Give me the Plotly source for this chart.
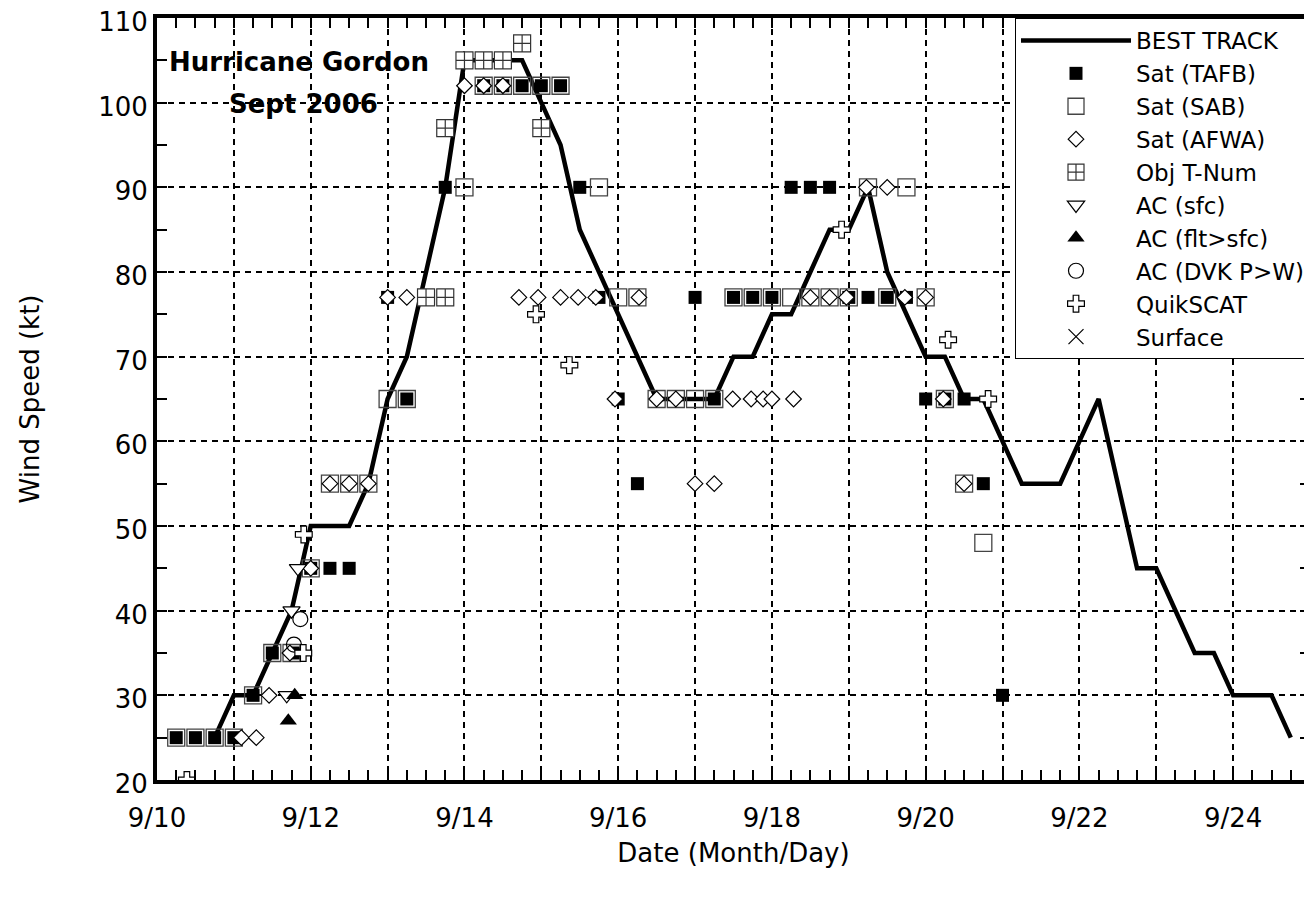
import plotly.graph_objects as go
from datetime import datetime, timedelta

# ---------------- data (times are UTC, Sept 2006) ----------------
bt_time = ["09-10 18:00", "09-11 00:00", "09-11 06:00", "09-11 12:00", "09-11 18:00",
           "09-12 00:00", "09-12 06:00", "09-12 12:00", "09-12 18:00", "09-13 00:00",
           "09-13 06:00", "09-13 12:00", "09-13 18:00", "09-14 00:00", "09-14 06:00",
           "09-14 12:00", "09-14 18:00", "09-15 00:00", "09-15 06:00", "09-15 12:00",
           "09-15 18:00", "09-16 00:00", "09-16 06:00", "09-16 12:00", "09-16 18:00",
           "09-17 00:00", "09-17 06:00", "09-17 12:00", "09-17 18:00", "09-18 00:00",
           "09-18 06:00", "09-18 12:00", "09-18 18:00", "09-19 00:00", "09-19 06:00",
           "09-19 12:00", "09-19 18:00", "09-20 00:00", "09-20 06:00", "09-20 12:00",
           "09-20 18:00", "09-21 00:00", "09-21 06:00", "09-21 12:00", "09-21 18:00",
           "09-22 00:00", "09-22 06:00", "09-22 12:00", "09-22 18:00", "09-23 00:00",
           "09-23 06:00", "09-23 12:00", "09-23 18:00", "09-24 00:00", "09-24 06:00",
           "09-24 12:00", "09-24 18:00"]
bt_wind = [25, 30, 30, 35, 40, 50, 50, 50, 55, 65, 70, 80, 90, 105, 105, 105, 105, 100, 95, 85,
           80, 75, 70, 65, 65, 65, 65, 70, 70, 75, 75, 80, 85, 85, 90, 80, 75, 70, 70, 65,
           65, 60, 55, 55, 55, 60, 65, 55, 45, 45, 40, 35, 35, 30, 30, 30, 25]

tafb_time = ["09-10 06:00", "09-10 12:00", "09-10 18:00", "09-11 00:00", "09-11 06:00",
             "09-11 12:00", "09-11 19:00", "09-12 00:00", "09-12 06:00", "09-12 12:00",
             "09-13 00:00", "09-13 06:00", "09-13 18:00", "09-14 06:00", "09-14 12:00",
             "09-14 18:00", "09-15 00:00", "09-15 06:00", "09-15 12:00", "09-15 18:00",
             "09-16 00:00", "09-16 06:00", "09-17 00:00", "09-17 06:00", "09-17 12:00",
             "09-17 18:00", "09-18 00:00", "09-18 06:00", "09-18 12:00", "09-18 18:00",
             "09-19 00:00", "09-19 06:00", "09-19 12:00", "09-19 18:00", "09-20 00:00",
             "09-20 06:00", "09-20 12:00", "09-20 18:00", "09-21 00:00"]
tafb_wind = [25, 25, 25, 25, 30, 35, 35, 45, 45, 45, 77, 65, 90, 102, 102, 102, 102, 102,
             90, 77, 65, 55, 77, 65, 77, 77, 77, 90, 90, 90, 77, 77, 77, 77, 65, 65, 65,
             55, 30]

sab_time = ["09-10 06:00", "09-10 12:00", "09-10 18:00", "09-11 00:00", "09-11 06:00",
            "09-11 12:00", "09-11 18:00", "09-12 00:00", "09-12 06:00", "09-12 12:00",
            "09-12 18:00", "09-13 00:00", "09-13 06:00", "09-14 00:00", "09-14 06:00",
            "09-14 12:00", "09-14 18:00", "09-15 00:00", "09-15 06:00", "09-15 18:00",
            "09-16 00:00", "09-16 06:00", "09-16 12:00", "09-16 18:00", "09-17 00:00",
            "09-17 06:00", "09-17 12:00", "09-17 18:00", "09-18 00:00", "09-18 06:00",
            "09-18 12:00", "09-18 18:00", "09-19 00:00", "09-19 06:00", "09-19 12:00",
            "09-19 18:00", "09-20 00:00", "09-20 06:00", "09-20 12:00", "09-20 18:00"]
sab_wind = [25, 25, 25, 25, 30, 35, 35, 45, 55, 55, 55, 65, 65, 90, 102, 102, 102, 102,
            102, 90, 77, 77, 65, 65, 65, 65, 77, 77, 77, 77, 77, 77, 77, 90, 77, 90, 77,
            65, 55, 48]

afwa_time = ["09-11 02:20", "09-11 07:00", "09-11 11:00", "09-11 17:30", "09-12 00:00",
             "09-12 06:00", "09-12 12:00", "09-12 18:00", "09-13 00:00", "09-13 06:00",
             "09-13 12:00", "09-14 00:00", "09-14 06:00", "09-14 12:00", "09-14 17:00",
             "09-14 23:00", "09-15 06:00", "09-15 11:30", "09-15 17:00", "09-15 23:00",
             "09-16 06:30", "09-16 12:00", "09-16 18:00", "09-17 00:00", "09-17 06:00",
             "09-17 11:45", "09-17 17:30", "09-17 21:15", "09-18 00:00", "09-18 06:45",
             "09-18 12:00", "09-18 18:00", "09-18 23:15", "09-19 05:30", "09-19 12:00",
             "09-19 17:30", "09-20 00:00", "09-20 05:30", "09-20 12:00"]
afwa_wind = [25, 25, 30, 35, 45, 55, 55, 55, 77, 77, 77, 102, 102, 102, 77, 77, 77, 77, 77,
             65, 77, 65, 65, 55, 55, 65, 65, 65, 65, 65, 77, 77, 77, 90, 90, 77, 77, 65, 55]

objt_time = ["09-13 12:00", "09-13 18:00", "09-13 18:00", "09-14 00:00", "09-14 06:00",
             "09-14 12:00", "09-14 18:00", "09-15 00:00"]
objt_wind = [77, 77, 97, 105, 105, 105, 107, 97]

acsfc_time = ["09-11 16:30", "09-11 18:00", "09-11 20:00"]
acsfc_wind = [30, 40, 45]

acflt_time = ["09-11 17:00", "09-11 19:00"]
acflt_wind = [27, 30]

dvk_time = ["09-11 18:45", "09-11 20:45"]
dvk_wind = [36, 39]

qscat_time = ["09-10 09:20", "09-11 21:40", "09-11 21:50", "09-14 22:20", "09-15 08:45",
              "09-18 21:45", "09-20 07:00", "09-20 19:30"]
qscat_wind = [20, 35, 49, 75, 69, 85, 72, 65]

sfc_time = [None]   # no surface observations
sfc_wind = [None]

x_start, x_end = "2006-09-10", "2006-09-25"
label_days = [10, 12, 14, 16, 18, 20, 22, 24]


def to_dt(lst):
    return [("2006-" + s) if s else None for s in lst]


FONT = "DejaVu Sans, Liberation Sans, Arial, sans-serif"

fig = go.Figure()

fig.add_trace(go.Scatter(x=to_dt(bt_time), y=bt_wind, mode="lines", name="BEST TRACK",
                         line=dict(color="black", width=4.5)))
fig.add_trace(go.Scatter(x=to_dt(tafb_time), y=tafb_wind, mode="markers", name="Sat (TAFB)",
                         marker=dict(symbol="square", size=13, color="black",
                                     line=dict(width=0))))
fig.add_trace(go.Scatter(x=to_dt(sab_time), y=sab_wind, mode="markers", name="Sat (SAB)",
                         marker=dict(symbol="square-open", size=17, color="#444",
                                     line=dict(width=1.3, color="#444"))))
fig.add_trace(go.Scatter(x=to_dt(afwa_time), y=afwa_wind, mode="markers", name="Sat (AFWA)",
                         marker=dict(symbol="diamond", size=12, color="white",
                                     line=dict(width=1.2, color="black"))))
fig.add_trace(go.Scatter(x=to_dt(objt_time), y=objt_wind, mode="markers", name="Obj T-Num",
                         marker=dict(symbol="square-cross", size=17, color="white",
                                     line=dict(width=1.2, color="#333"))))
fig.add_trace(go.Scatter(x=to_dt(acsfc_time), y=acsfc_wind, mode="markers", name="AC (sfc)",
                         marker=dict(symbol="triangle-down", size=15, color="white",
                                     line=dict(width=1.2, color="black"))))
fig.add_trace(go.Scatter(x=to_dt(acflt_time), y=acflt_wind, mode="markers", name="AC (flt>sfc)",
                         marker=dict(symbol="triangle-up", size=15, color="black",
                                     line=dict(width=0))))
fig.add_trace(go.Scatter(x=to_dt(dvk_time), y=dvk_wind, mode="markers", name="AC (DVK P>W)",
                         marker=dict(symbol="circle-open", size=15, color="black",
                                     line=dict(width=1.2, color="black"))))
fig.add_trace(go.Scatter(x=to_dt(qscat_time), y=qscat_wind, mode="markers", name="QuikSCAT",
                         marker=dict(symbol="cross", size=14, color="white",
                                     line=dict(width=1.2, color="black"))))
fig.add_trace(go.Scatter(x=to_dt(sfc_time), y=sfc_wind, mode="markers", name="Surface",
                         marker=dict(symbol="x-thin-open", size=15, color="black",
                                     line=dict(width=1.2, color="black"))))

# day ticks: labels on even days, gridline every day
d0 = datetime(2006, 9, 10)
day_vals = [(d0 + timedelta(days=i)).strftime("%Y-%m-%d") for i in range(16)]
day_text = [f"9/{(d0 + timedelta(days=i)).day}" if (d0 + timedelta(days=i)).day in label_days else ""
            for i in range(16)]

grid = dict(showgrid=True, gridcolor="black", gridwidth=2, griddash="6px,5px")

# page body has an 8px default margin: margins below compensate for it
fig.update_layout(
    width=1304, height=884,
    margin=dict(l=149, r=2, t=10, b=112, autoexpand=False),
    paper_bgcolor="white", plot_bgcolor="white",
    font=dict(family=FONT, size=26, color="black"),
    showlegend=True,
    legend=dict(x=1, y=1, xanchor="right", yanchor="top", bgcolor="white",
                bordercolor="black", borderwidth=1, font=dict(size=23, family=FONT),
                itemwidth=110, tracegroupgap=0),
    xaxis=dict(type="date", range=[x_start, x_end], tickmode="array",
               tickvals=day_vals, ticktext=day_text, automargin=False,
               ticklabeloverflow="allow",
               ticks="inside", ticklen=10, tickwidth=2, tickcolor="black",
               ticklabelstandoff=12,
               minor=dict(dtick=6 * 3600000, tick0=x_start, ticks="inside", ticklen=10,
                          tickwidth=1.5, tickcolor="black", showgrid=False),
               showline=True, linewidth=4, linecolor="black", mirror="ticks",
               zeroline=False, tickfont=dict(size=26),
               title=dict(text="Date (Month/Day)", font=dict(size=26), standoff=13),
               **grid),
    yaxis=dict(range=[20, 110], dtick=10, tick0=20, ticks="inside", ticklen=10,
               tickwidth=2, tickcolor="black", automargin=False,
               ticklabeloverflow="allow", ticklabelshift=4,
               minor=dict(dtick=5, ticks="inside", ticklen=10, tickwidth=2,
                          tickcolor="black", showgrid=False),
               showline=True, linewidth=4, linecolor="black", mirror="ticks",
               zeroline=False, tickfont=dict(size=26),
               title=dict(text="Wind Speed (kt)", font=dict(size=26), standoff=52),
               **grid),
    annotations=[
        dict(text="<b>Hurricane Gordon</b>", xref="paper", yref="paper", x=0.123, y=0.942,
             showarrow=False, font=dict(size=26, family=FONT), xanchor="center",
             yanchor="middle"),
        dict(text="<b>Sept 2006</b>", xref="paper", yref="paper", x=0.127, y=0.887,
             showarrow=False, font=dict(size=26, family=FONT), xanchor="center",
             yanchor="middle"),
    ],
)

fig.write_html("out.html")
